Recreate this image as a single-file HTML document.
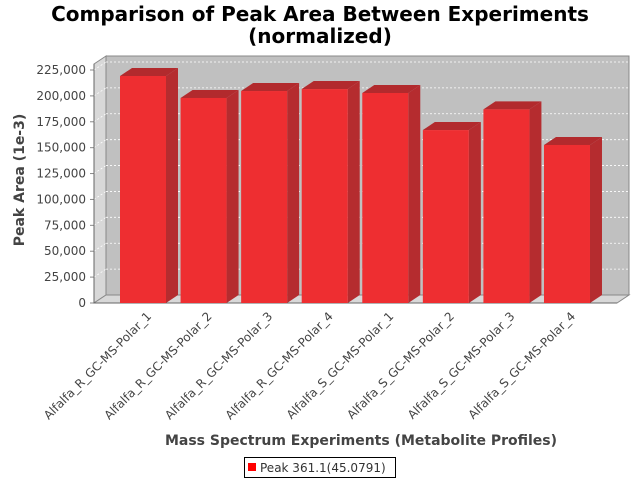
<!DOCTYPE html>
<html><head><meta charset="utf-8"><style>body{margin:0;background:#fff}svg{display:block;font-family:"DejaVu Sans","Liberation Sans",sans-serif}</style></head>
<body>
<svg id="c" width="640" height="480" xmlns="http://www.w3.org/2000/svg">
<text x="320" y="21" text-anchor="middle" font-size="20" font-weight="bold">Comparison of Peak Area Between Experiments</text>
<text x="320" y="43" text-anchor="middle" font-size="20" font-weight="bold">(normalized)</text>
<g id="plot"></g>
<text transform="translate(24,180) rotate(-90)" text-anchor="middle" font-size="14" font-weight="bold" fill="#444">Peak Area (1e-3)</text>
<text x="361" y="445" text-anchor="middle" font-size="14" font-weight="bold" fill="#444">Mass Spectrum Experiments (Metabolite Profiles)</text>
<g>
<rect x="244.5" y="457.5" width="151" height="20" fill="#fff" stroke="#000"/>
<rect x="248" y="463" width="8" height="8" fill="#f00"/>
<text x="260" y="472" font-size="12" fill="#333">Peak 361.1(45.0791)</text>
</g>
</svg>
<script>
const categories=["Alfalfa_R_GC-MS-Polar_1","Alfalfa_R_GC-MS-Polar_2","Alfalfa_R_GC-MS-Polar_3","Alfalfa_R_GC-MS-Polar_4","Alfalfa_S_GC-MS-Polar_1","Alfalfa_S_GC-MS-Polar_2","Alfalfa_S_GC-MS-Polar_3","Alfalfa_S_GC-MS-Polar_4"];
const values=[219200,198000,204700,206600,202800,167000,187000,152600];
const ticks=[0,25000,50000,75000,100000,125000,150000,175000,200000,225000];
const NS="http://www.w3.org/2000/svg";
const g=document.getElementById('plot');
const L=94,R=617,B=303,DX=12,DY=8,MAX=225000,TOPV=70;
const bw=46,gap=14.57,margin=26;
function y(v){return B-(v/MAX)*(B-TOPV);}
function x(i){return L+margin+i*(bw+gap)+bw/2;}
function mk(tag,attrs){const e=document.createElementNS(NS,tag);for(const k in attrs)e.setAttribute(k,attrs[k]);g.appendChild(e);return e;}
let e;
e=mk('polygon',{points:`${L+DX},${B-DY} ${R+DX},${B-DY} ${R+DX},${56} ${L+DX},56`,fill:'#c0c0c0'});


e=mk('polygon',{points:`${L},${B} ${L+DX},${B-DY} ${L+DX},56 ${L},64`,fill:'#d8d8d8',stroke:'#888'});


e=mk('polygon',{points:`${L},${B} ${R},${B} ${R+DX},${B-DY} ${L+DX},${B-DY}`,fill:'#d8d8d8',stroke:'#888'});


e=mk('polyline',{points:`${L+DX},56 ${R+DX},56 ${R+DX},${B-DY}`,fill:'none',stroke:'#888'});


ticks.forEach(t=>{const yy=y(t);
 if(t>0){e=mk('line',{x1:L+DX,x2:R+DX,y1:yy-DY,y2:yy-DY,stroke:'#fff','stroke-dasharray':'2,2','stroke-width':0.8});
 
 
 e=mk('line',{x1:L,x2:L+DX,y1:yy,y2:yy-DY,stroke:'#fff','stroke-dasharray':'2,2','stroke-width':0.8});
 
 }
 e=mk('line',{x1:L-4,x2:L,y1:yy,y2:yy,stroke:'#888'});
 
 
 e=mk('text',{x:L-8,y:yy+4,'text-anchor':'end','font-size':12,fill:'#444'});
 e.textContent=t.toLocaleString('en-US');
 
 
});
e=mk('line',{x1:L,x2:L,y1:64,y2:B,stroke:'#666'});


e=mk('line',{x1:L,x2:R,y1:B,y2:B,stroke:'#666'});


values.forEach((v,i)=>{const cx=x(i),x0=cx-bw/2,x1=cx+bw/2,yt=y(v);
 e=mk('polygon',{points:`${x0},${yt} ${x0+DX},${yt-DY} ${x1+DX},${yt-DY} ${x1},${yt}`,fill:'#b22a2d'});
 
 
 e=mk('polygon',{points:`${x1},${yt} ${x1+DX},${yt-DY} ${x1+DX},${B-DY} ${x1},${B}`,fill:'#b52c2f'});
 
 
 e=mk('rect',{x:x0,y:yt,width:bw,height:B-yt,fill:'#ee2e31'});
 
 
 e=mk('text',{transform:`translate(${cx+9},${B+14}) rotate(-45)`,'text-anchor':'end','font-size':12,fill:'#444'});
 e.textContent=categories[i];
 
 
});
</script>
</body></html>
